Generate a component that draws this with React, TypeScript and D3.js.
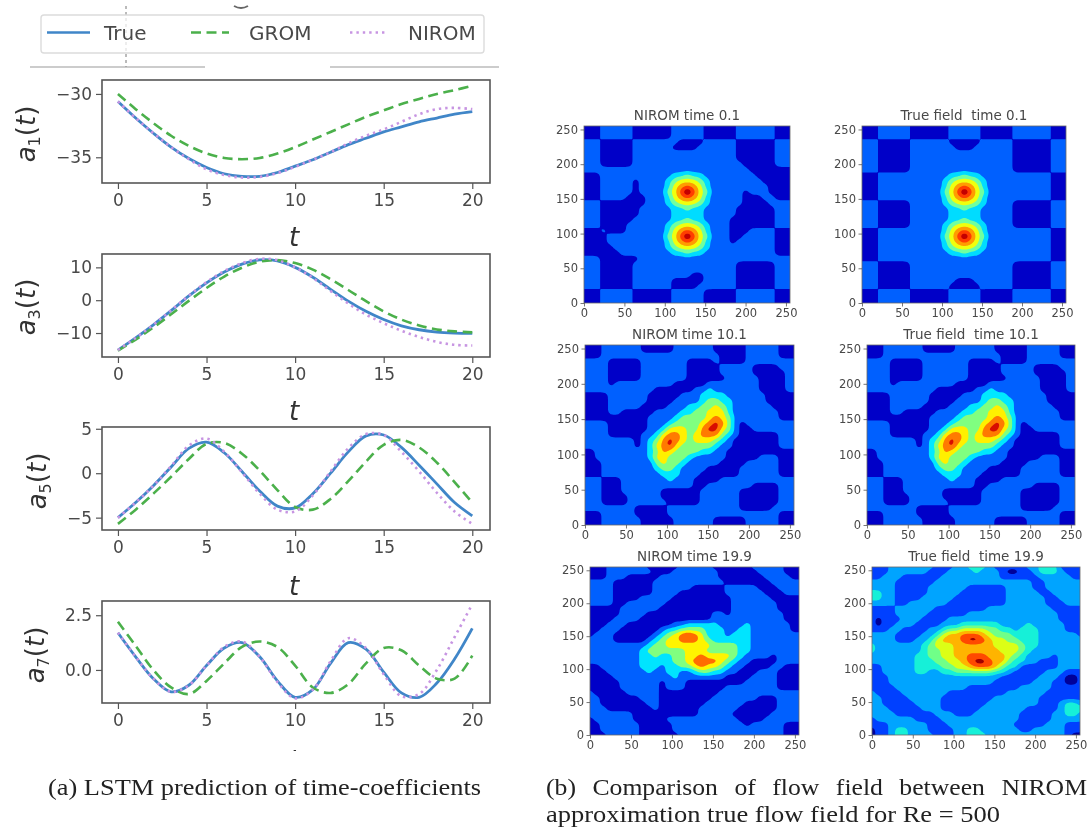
import React, { useEffect, useRef } from "react";
import * as d3 from "d3";

// time coefficients at t = 0,1,...,20
const tValues = [0, 1, 2, 3, 4, 5, 6, 7, 8, 9, 10, 11, 12, 13, 14, 15, 16, 17, 18, 19, 20];
const a1True = [-30.6, -31.9, -33.1, -34.2, -35.1, -35.8, -36.3, -36.5, -36.5, -36.2, -35.7, -35.2, -34.6, -34, -33.5, -33, -32.6, -32.2, -31.9, -31.6, -31.4];
const a1Grom = [-30, -31.2, -32.3, -33.3, -34.1, -34.7, -35.05, -35.15, -35.05, -34.7, -34.2, -33.6, -33, -32.4, -31.8, -31.3, -30.8, -30.4, -30, -29.7, -29.35];
const a1Nirom = [-30.6, -31.9, -33.1, -34.2, -35.15, -35.95, -36.4, -36.6, -36.55, -36.25, -35.75, -35.2, -34.6, -33.9, -33.3, -32.8, -32.2, -31.6, -31.2, -31.1, -31.2];
const a3True = [-15.2, -11.5, -7.5, -3.2, 1.3, 5.3, 8.6, 11, 12.3, 12, 10, 7, 3.3, -0.3, -3.4, -5.9, -7.8, -9, -9.7, -10, -10.1];
const a3Grom = [-15.4, -12, -8.3, -4.3, -0.2, 3.7, 7.2, 9.9, 11.7, 12.2, 11.3, 9.3, 6.4, 3.1, -0.3, -3.4, -5.9, -7.7, -8.9, -9.5, -9.8];
const a3Nirom = [-15.2, -11.5, -7.5, -3.1, 1.4, 5.5, 8.9, 11.3, 12.6, 12.2, 10, 6.8, 2.8, -1, -4.4, -7, -9.3, -11.2, -12.7, -13.6, -13.8];
const a5True = [-5, -3.3, -1.4, 0.7, 2.8, 3.5, 2.3, 0.2, -2, -3.7, -3.9, -2.3, 0, 2.4, 4.2, 4.3, 2.9, 0.9, -1.2, -3.3, -4.8];
const a5Grom = [-5.7, -4.1, -2.3, -0.4, 1.6, 3.3, 3.4, 2.2, 0.3, -1.9, -3.8, -4.1, -2.9, -0.9, 1.3, 3.2, 3.75, 2.9, 1.2, -1, -3.3];
const a5Nirom = [-5, -3.3, -1.4, 0.8, 3.1, 3.9, 2.4, 0.1, -2.3, -4.1, -4.3, -2.5, 0.2, 2.8, 4.4, 4.3, 2.4, 0.2, -2.2, -4.3, -5.7];
const a7True = [1.7, 0.6, -0.4, -1, -0.7, 0.2, 1, 1.25, 0.6, -0.5, -1.25, -0.9, 0.3, 1.25, 0.95, -0.1, -1.05, -1.25, -0.6, 0.5, 1.9];
const a7Grom = [2.2, 1.1, 0, -0.8, -1.1, -0.5, 0.3, 1.05, 1.3, 1.05, 0.2, -0.8, -1.05, -0.65, 0.3, 1, 0.9, 0.2, -0.4, -0.4, 0.65];
const a7Nirom = [1.7, 0.6, -0.4, -1, -0.7, 0.2, 1.05, 1.3, 0.6, -0.55, -1.3, -0.9, 0.4, 1.45, 1, -0.2, -1.2, -1.1, 0, 1.5, 3];

const xTicks = [0, 5, 10, 15, 20];
const a1Ticks = [-35, -30];
const a3Ticks = [-10, 0, 10];
const a5Ticks = [-5, 0, 5];
const a7Ticks = [0, 2.5];
const legendLabels = ["True", "GROM", "NIROM"];

// contour fields: one digit per grid node (every 8 units), top row is y = 256
const nirom01Rows = [
  "000 11111 000000 11111 00000 111111 000",
  "000 11111 000000 11111 00000 111111 000",
  "000 11111 000000 11111 00000 111111 000",
  "111 00000 1111111 0000 11111 000000 111",
  "111 00000 111111 0000 111111 000000 111",
  "111 00000 1111111111111111 000000 111",
  "111 00000 1111111111111111 000000 111",
  "111 00000 11111111111111111 00000 111",
  "11111111111111111111111111 0000000",
  "000 111111111 112232211 111111 000000",
  "000 11111 0 111 123444321 1111111 00000",
  "000 11111 0 111 124565421 11111111 0000",
  "000 11111 0 111 134686431 1111 0 111 0000",
  "000 1111 000 11 124565421 1111 000 11 000",
  "111 0000000 11 123444321 1111 0000 1111",
  "111 000000 111 112232211 111 000000 111",
  "111 000000 111 112222211 111 000000 111",
  "111 00000 1111 112232211 11 0000000 111",
  "111 0000 11111 123444321 11 0000000 111",
  "000 1 000 11111 124565421 11 000 1111 000",
  "0000 11111111 134686431 11 00 11111 000",
  "0000 11111111 124565421 11 0 111111 000",
  "00000 1111111 123444321 111111111 000",
  "000000 111111 112232211 111111111 000",
  "111 000000 111 111111111 111111111111",
  "11100000 1111111111111111 000000 111",
  "11100000 1111111111111111 000000 111",
  "11100000 111111111 00 11111 000000 111",
  "11100000 111111 00000 11111 000000 111",
  "11100000 111111 0000 111111 000000 111",
  "000 11111 000000 11111 00000 111111 000",
  "000 11111 000000 11111 00000 111111 000",
  "000 11111 000000 11111 00000 111111 000",
];

const true01Rows = [
  "000 11111 000000 11111 00000 111111 000",
  "000 11111 000000 11111 00000 111111 000",
  "000 11111 000000 11111 00000 111111 000",
  "111 00000 111111 00000 11111 000000 111",
  "111 00000 1111111 000 111111 000000 111",
  "111 00000 1111111111111111 000000 111",
  "111 00000 1111111111111111 000000 111",
  "111 00000 1111111111111111 000000 111",
  "111 00000 1111111111111111 000000 111",
  "000 111111111 112232211 111111111 000",
  "000 111111111 123444321 111111111 000",
  "000 111111111 124565421 111111111 000",
  "000 111111111 134686431 111111111 000",
  "000 111111111 124565421 111111111 000",
  "111 00000 1111 123444321 111 000000 111",
  "111 00000 1111 112232211 111 000000 111",
  "111 00000 1111 112222211 111 000000 111",
  "111 00000 1111 112232211 111 000000 111",
  "111 00000 1111 123444321 111 000000 111",
  "000 111111111 124565421 111111111 000",
  "000 111111111 134686431 111111111 000",
  "000 111111111 124565421 111111111 000",
  "000 111111111 123444321 111111111 000",
  "000 111111111 112232211 111111111 000",
  "000 111111111 111111111 111111111 000",
  "111 00000 1111111111111111 000000 111",
  "111 00000 1111111111111111 000000 111",
  "111 00000 1111111111111111 000000 111",
  "111 00000 1111111 000 111111 000000 111",
  "111 00000 111111 00000 11111 000000 111",
  "000 11111 000000 11111 00000 111111 000",
  "000 11111 000000 11111 00000 111111 000",
  "000 11111 000000 11111 00000 111111 000",
];

const field10Rows = [
  "000 111111 00000 111111 00000 11111 000",
  "000 111111 00000 111111 00000 11111 000",
  "000 111111111111111111 0000 11111 000",
  "1111 00000 1111111 0000 1 0000 11111111",
  "1111 00000 1111111 00000 11111 0000 111",
  "1111 00000 1111111 00000 11111 00000 11",
  "1111 00000 1111111 000000 11111 0000 11",
  "1111 0 111111111 00000 11111111 0000 11",
  "11111111111 000000 11 2 1111111 0000 11",
  "0000 111111 00000 111 2222 111111 00000",
  "0000 111111 0000 1111 23322 11111 00000",
  "0000 11111 0000 111 2233432 111111 0000",
  "0000 11 00000 1111 22334442 1111111 000",
  "0000000000 1111 233334543 1111111 000",
  "1111 000000 111 2333345653 1 0 11111111",
  "1111 000000 11 24443356643 1 00 1111111",
  "1111 00000 11 245543455532 1 000000 111",
  "11111111 0 1 235654344432 1 0000000 111",
  "11111111 0 1 24564333332 11 0000000 111",
  "00 11111111 2354333322 11 00000000000",
  "00 11111111 2443332 11111 00000 111 000",
  "000 11111111 34332 11111 0000 11111 000",
  "000 11111111 2332 1111 00000 111111 000",
  "000 111111111 222 111 000000 111111 000",
  "111 000 1111111 2 111 0000 111111111111",
  "111 000 11111111111 00 1111111 0000 111",
  "111 000 111111 000000 111111 000000 111",
  "111 0000 11111 000000 111111 000000 111",
  "111 0000 111111 00000 111111 000000 111",
  "11111111 00000 11111111111 00000 1111",
  "000 11111 00000 11111111111111111 000",
  "000 111111 00000 111111 00000 11111 000",
  "000 111111 00000 111111 00000 11111 000",
];

const nirom19Rows = [
  "000 111111 00000 11111 000000 11111 000",
  "000 1111111 000 1111111 000000 1111 000",
  "000 111 00000 111111111 0000000 1111 00",
  "1111 000000 11111111111 0000000 11111",
  "1111 000000 111111 00000 11111 000 1111",
  "1111 000000 1111 0000000 111111 000 111",
  "1111 0000 11111 000000000 111111 00000",
  "1111 00 111111 0000000000 1111111 0000",
  "00000 111111 00000000000 1111111 0000",
  "00000 1111 0000000000 11 0 11111111 000",
  "0000 1111 00000000000 11111111111 000",
  "000 111 0000000 11 22222 1111 2 111111 00",
  "00 111 000000 1 223333222 11 22 111111 00",
  "0 111 000000 1 2345654222 1 222 11111111",
  "1111 00000 1 234455543222222 11111111",
  "111111111 2334444444333322 11111111",
  "11111111 23333334443333322 11111111",
  "11111111 2232233445444432 1111 0 1111",
  "11111111 222223345655432 11 0000 1111",
  "00 111111 22212233454432 11 0000 11 000",
  "000 111111 2 11 22 11 2 33 22 11 000 111 0000",
  "0000 111111111 2 1111111 0000 1111 0000",
  "00000 111111 0 111 000000000 11111 0000",
  "00000 111111 0 111 000000 11111111 0000",
  "1 00000 11111 000000000 111111111 1111",
  "11 000000 111 00000000 1111111 000 1111",
  "11 0000000 11 0000000 111111 00000 1111",
  "111 0000000 1 000000 111111 000000 1111",
  "1111111 0000000000 11111 000000 11111",
  "0 111111 00000 11111111111 0000 111111",
  "00 111111 00000 11111111111 0 11111 000",
  "00 111111 00000 11111111111111111 000",
  "000 11111 000000 1111111111111111 000",
];

const true19Rows = [
  "111 2222222 111 22 333 2 11111 22 333 1111",
  "111 222222 111 2222 3 222 1 00 11 2 333 2 111",
  "11 222 111111 222222222 111111 22222 11",
  "2222 111111 222222222222222 11 222222",
  "2222 11 0 11 222222 111111 2222 11 222222",
  "33 22 11111 22222 1111111 22222 11 22222",
  "33 22 1111 22222 11111111 222222 11 2222",
  "2222 11 222222 111111111 222222 111 222",
  "1111 222222 11111111 2222222222 11111",
  "1111 22222 111111 22222222222222 1111",
  "1 0 111 222 1111 22222222222222222 1111",
  "1 0 11 222 1111 222 333333 2222 3 22222 111",
  "111 22 1111 22 3 4 4 5555 44 33 2 333 2222 111",
  "2222 1111 22 356677765444 3333 222222 1",
  "2222 111 22 35666788765544 333 2222222",
  "3 2222222 3 4 555 666666 5555 4 33 2222222",
  "3 2222222 3 44 55 6666666 555 4 3 22222222",
  "2222222 33 44 55 66 777 666 5 4 3 2222 1 2222",
  "2222222 333 44 55 6 7 88 7 66 4 33 22 111 2222",
  "11 22222 3333 44 55 6 777 6 4 33 111111 2222",
  "11 22222 33 22 33 444444 33 2 11111 222 111",
  "111 22222222222222222 111111 222 1 00 1",
  "111 2222222222222222 111111 222 11 00 1",
  "1111 22222222222 11111111 22222 11111",
  "2 1111 2222222 111111111 222222 111111",
  "22 1111 22222 11111111 2222222 1111111",
  "22 11111 2222 1111111 22222222 111 2 332",
  "222 11111 222 111111 2222222 11111 2 333",
  "2222 111111 222 111 2222222 11 0 11 22 33 2",
  "1 222222 1111 222222222222 11111 22222",
  "111 222222 111 2222222222 11111 222 111",
  "0 11 2 33 222 1 0 11 22 33 222222 11 22222 111",
  "0 11 2 33 2222 111 22 333 222222222222 1 00",
];

const fieldTicks = [0, 50, 100, 150, 200, 250];
const earlyColors = ["#0000c8", "#0060ff", "#00dcff", "#70ffa0", "#f0ff10", "#ff9c00", "#ff3c00", "#c40000"];
const midColors = ["#0000c8", "#0060ff", "#00e8ff", "#80ff80", "#fff000", "#ff7a00", "#d81000", "#c00000"];
const lateColors = ["#0000c8", "#0060ff", "#00e4ff", "#80ff80", "#fff400", "#ff6c00", "#a00000"];
const trueLateColors = ["#00009a", "#0040ff", "#00a4ff", "#18f0d8", "#70ff88", "#dcff18", "#ffb400", "#ff4800", "#a00000"];

const TRUE_COLOR = "#3f86c8";
const GROM_COLOR = "#4bb04b";
const NIROM_COLOR = "#c795e2";
const FRAME = "#555555";
const INK = "#484848";

const linePanels = [
  { sub: "1", top: 80, bottom: 183, domain: [-37.03, -28.9], ticks: a1Ticks, fmt: "d", series: [a1True, a1Grom, a1Nirom], labelX: 35, labelY: 134, tBase: 246 },
  { sub: "3", top: 254, bottom: 357, domain: [-17.3, 14.07], ticks: a3Ticks, fmt: "d", series: [a3True, a3Grom, a3Nirom], labelX: 35, labelY: 307, tBase: 420 },
  { sub: "5", top: 427, bottom: 530, domain: [-6.39, 5.2], ticks: a5Ticks, fmt: "d", series: [a5True, a5Grom, a5Nirom], labelX: 46, labelY: 481, tBase: 595 },
  { sub: "7", top: 601, bottom: 703, domain: [-1.51, 3.15], ticks: a7Ticks, fmt: ".1f", series: [a7True, a7Grom, a7Nirom], labelX: 44, labelY: 655, tBase: 769 },
];

const fieldPanels = [
  { title: "NIROM time 0.1", rows: nirom01Rows, colors: earlyColors, left: 584, right: 790, top: 126, bottom: 303, titleY: 120 },
  { title: "True field  time 0.1", rows: true01Rows, colors: earlyColors, left: 862, right: 1066, top: 126, bottom: 303, titleY: 120 },
  { title: "NIROM time 10.1", rows: field10Rows, colors: midColors, left: 585, right: 794, top: 345, bottom: 525, titleY: 339 },
  { title: "True field  time 10.1", rows: field10Rows, colors: midColors, left: 867, right: 1075, top: 345, bottom: 525, titleY: 339 },
  { title: "NIROM time 19.9", rows: nirom19Rows, colors: lateColors, left: 590, right: 799, top: 567, bottom: 735, titleY: 561 },
  { title: "True field  time 19.9", rows: true19Rows, colors: trueLateColors, left: 872, right: 1080, top: 567, bottom: 735, titleY: 561 },
];

const GRID_STEP = 8;
const UPSAMPLE = 4;
const SMOOTH = 1;

function parseRows(rows: string[]) {
  // bottom row first, the way d3.contours wants it with y growing upward
  const clean = rows.map((r) => r.replace(/ /g, "")).reverse();
  const n = clean[0].length;
  const m = clean.length;
  const at = (i: number, j: number) => {
    const r = clean[Math.max(0, Math.min(m - 1, j))];
    const k = Math.max(0, Math.min(r.length - 1, i));
    return +r[k];
  };
  // bilinear upsample then a small blur, so the digit grid gives round contours
  const width = n * UPSAMPLE;
  const height = m * UPSAMPLE;
  const values = new Float64Array(width * height);
  for (let v = 0; v < height; v++) {
    for (let u = 0; u < width; u++) {
      const gx = (u + 0.5) / UPSAMPLE - 0.5;
      const gy = (v + 0.5) / UPSAMPLE - 0.5;
      const i = Math.floor(gx);
      const j = Math.floor(gy);
      const fx = gx - i;
      const fy = gy - j;
      const top = at(i, j) * (1 - fx) + at(i + 1, j) * fx;
      const bot = at(i, j + 1) * (1 - fx) + at(i + 1, j + 1) * fx;
      values[u + v * width] = top * (1 - fy) + bot * fy;
    }
  }
  d3.blur2({ data: values, width, height }, SMOOTH);
  return { values: Array.from(values), width, height };
}

function drawLinePanels(svg: any) {
  const root = svg.append("g").attr("filter", "url(#soft)");
  const x = d3.scaleLinear().domain([-0.9, 21]).range([102, 490]);

  linePanels.forEach((p) => {
    const y = d3.scaleLinear().domain(p.domain).range([p.bottom, p.top]);
    const g = root.append("g");
    const lineGen = d3
      .line<number>()
      .x((_, i) => x(tValues[i]))
      .y((d) => y(d))
      .curve(d3.curveCatmullRom.alpha(0.5));

    const styles = [
      { color: TRUE_COLOR, dash: null, w: 2.8 },
      { color: GROM_COLOR, dash: "10 5.5", w: 2.6 },
      { color: NIROM_COLOR, dash: "2.4 4", w: 2.6 },
    ];
    p.series.forEach((s, k) => {
      g.append("path")
        .attr("d", lineGen(s))
        .attr("fill", "none")
        .attr("stroke", styles[k].color)
        .attr("stroke-width", styles[k].w)
        .attr("stroke-dasharray", styles[k].dash);
    });

    g.append("rect")
      .attr("x", 102)
      .attr("y", p.top)
      .attr("width", 388)
      .attr("height", p.bottom - p.top)
      .attr("fill", "none")
      .attr("stroke", FRAME)
      .attr("stroke-width", 1.6);

    const xAxis = g
      .append("g")
      .attr("transform", `translate(0,${p.bottom})`)
      .call(d3.axisBottom(x).tickValues(xTicks).tickSize(6).tickPadding(5).tickFormat(d3.format("d")));
    const yAxis = g
      .append("g")
      .attr("transform", "translate(102,0)")
      .call(d3.axisLeft(y).tickValues(p.ticks).tickSize(6).tickPadding(4).tickFormat(d3.format(p.fmt)));
    [xAxis, yAxis].forEach((a) => {
      a.select(".domain").remove();
      a.selectAll("line").attr("stroke", FRAME).attr("stroke-width", 1.2);
      a.selectAll("text").attr("fill", INK).attr("font-size", 17).attr("font-family", "DejaVu Sans");
    });

    const label = g
      .append("text")
      .attr("transform", `translate(${p.labelX},${p.labelY}) rotate(-90)`)
      .attr("text-anchor", "middle")
      .attr("font-family", "DejaVu Sans")
      .attr("font-size", 26)
      .attr("fill", "#333");
    label.append("tspan").attr("font-style", "italic").text("a");
    label.append("tspan").attr("font-size", 16).attr("dy", 5).text(p.sub);
    label.append("tspan").attr("dy", -5).text("(");
    label.append("tspan").attr("font-style", "italic").text("t");
    label.append("tspan").text(")");

    // the last x label is cut off by the figure crop
    const tLabel = g
      .append("text")
      .attr("x", 294)
      .attr("y", p.tBase)
      .attr("text-anchor", "middle")
      .attr("font-family", "DejaVu Sans")
      .attr("font-style", "italic")
      .attr("font-size", 26)
      .attr("fill", "#333")
      .text("t");
    if (p.sub === "7") tLabel.attr("clip-path", "url(#crop-last-t)");
  });
}

function drawLegend(svg: any) {
  const g = svg.append("g").attr("filter", "url(#soft)");

  // leftovers of the page behind the legend
  g.append("line").attr("x1", 126).attr("x2", 126).attr("y1", 6).attr("y2", 67).attr("stroke", "#777").attr("stroke-dasharray", "3 3");
  g.append("line").attr("x1", 30).attr("x2", 205).attr("y1", 67).attr("y2", 67).attr("stroke", "#999");
  g.append("line").attr("x1", 330).attr("x2", 499).attr("y1", 67).attr("y2", 67).attr("stroke", "#999");
  g.append("path").attr("d", "M234,6 Q241,10 248,6").attr("fill", "none").attr("stroke", "#666").attr("stroke-width", 2);

  g.append("rect")
    .attr("x", 41)
    .attr("y", 15)
    .attr("width", 443)
    .attr("height", 38)
    .attr("rx", 3)
    .attr("fill", "#fff")
    .attr("fill-opacity", 0.75)
    .attr("stroke", "#dcdcdc")
    .attr("stroke-width", 1.4);

  const keys = [
    { x1: 47, x2: 90, tx: 104, color: TRUE_COLOR, dash: null },
    { x1: 191, x2: 229, tx: 249, color: GROM_COLOR, dash: "10 5.5" },
    { x1: 350, x2: 388, tx: 408, color: NIROM_COLOR, dash: "2.4 4" },
  ];
  keys.forEach((k, i) => {
    g.append("line")
      .attr("x1", k.x1)
      .attr("x2", k.x2)
      .attr("y1", 32.5)
      .attr("y2", 32.5)
      .attr("stroke", k.color)
      .attr("stroke-width", 2.6)
      .attr("stroke-dasharray", k.dash);
    g.append("text")
      .attr("x", k.tx)
      .attr("y", 40)
      .attr("font-family", "DejaVu Sans")
      .attr("font-size", 20)
      .attr("fill", INK)
      .text(legendLabels[i]);
  });
}

function drawFieldPanels(svg: any) {
  const defs = svg.select("defs");

  fieldPanels.forEach((p, idx) => {
    const root = svg.append("g").attr("filter", "url(#soft)");
    const x = d3.scaleLinear().domain([0, 255]).range([p.left, p.right]);
    const y = d3.scaleLinear().domain([0, 255]).range([p.bottom, p.top]);
    const { values, width, height } = parseRows(p.rows);

    defs
      .append("clipPath")
      .attr("id", `field-${idx}`)
      .append("rect")
      .attr("x", p.left)
      .attr("y", p.top)
      .attr("width", p.right - p.left)
      .attr("height", p.bottom - p.top);

    const thresholds = p.colors.map((_, k) => k - 0.5).slice(1);
    const contours = d3.contours().size([width, height]).thresholds(thresholds)(values);
    const path = d3.geoPath(
      d3.geoTransform({
        point(px: number, py: number) {
          const gx = px / UPSAMPLE - 0.5;
          const gy = py / UPSAMPLE - 0.5;
          (this as any).stream.point(x(gx * GRID_STEP), y(gy * GRID_STEP));
        },
      })
    );

    const field = root.append("g").attr("clip-path", `url(#field-${idx})`);
    field
      .append("rect")
      .attr("x", p.left)
      .attr("y", p.top)
      .attr("width", p.right - p.left)
      .attr("height", p.bottom - p.top)
      .attr("fill", p.colors[0]);
    field
      .selectAll("path")
      .data(contours)
      .join("path")
      .attr("d", (d: any) => path(d))
      .attr("fill", (_: any, k: number) => p.colors[k + 1]);

    root
      .append("rect")
      .attr("x", p.left)
      .attr("y", p.top)
      .attr("width", p.right - p.left)
      .attr("height", p.bottom - p.top)
      .attr("fill", "none")
      .attr("stroke", "#666")
      .attr("stroke-width", 0.8);

    const xAxis = root
      .append("g")
      .attr("transform", `translate(0,${p.bottom})`)
      .call(d3.axisBottom(x).tickValues(fieldTicks).tickSize(3.5).tickPadding(2.5));
    const yAxis = root
      .append("g")
      .attr("transform", `translate(${p.left},0)`)
      .call(d3.axisLeft(y).tickValues(fieldTicks).tickSize(3.5).tickPadding(2.5));
    [xAxis, yAxis].forEach((a) => {
      a.select(".domain").remove();
      a.selectAll("line").attr("stroke", FRAME).attr("stroke-width", 0.8);
      a.selectAll("text").attr("fill", INK).attr("font-size", 11.5).attr("font-family", "DejaVu Sans");
    });

    root
      .append("text")
      .attr("x", (p.left + p.right) / 2)
      .attr("y", p.titleY)
      .attr("text-anchor", "middle")
      .attr("font-family", "DejaVu Sans")
      .attr("font-size", 13.5)
      .attr("fill", INK)
      .style("white-space", "pre")
      .text(p.title);
  });
}

function drawCaptions(svg: any) {
  const captions = [
    { text: "(a) LSTM prediction of time-coefficients", x: 48, y: 795, len: 433, gap: 0 },
    { text: "(b) Comparison of flow field between NIROM", x: 546, y: 795, len: 541, gap: 9 },
    { text: "approximation true flow field for Re = 500", x: 546, y: 822, len: 454, gap: 0 },
  ];
  captions.forEach((c) => {
    svg
      .append("text")
      .attr("x", c.x)
      .attr("y", c.y)
      .attr("font-family", "Liberation Serif")
      .attr("font-size", 23)
      .attr("fill", "#222")
      .attr("word-spacing", c.gap)
      .attr("textLength", c.len)
      .attr("lengthAdjust", "spacingAndGlyphs")
      .text(c.text);
  });
}

export default function App() {
  const ref = useRef<SVGSVGElement>(null);

  useEffect(() => {
    const svg = d3.select(ref.current);
    svg.selectAll("*").remove(); // strict mode runs this twice

    const defs = svg.append("defs");
    // the source figure is a blurry screenshot
    defs
      .append("filter")
      .attr("id", "soft")
      .attr("x", "-5%")
      .attr("y", "-5%")
      .attr("width", "110%")
      .attr("height", "110%")
      .append("feGaussianBlur")
      .attr("stdDeviation", 0.6);
    defs.append("clipPath").attr("id", "crop-last-t").append("rect").attr("x", 270).attr("y", 700).attr("width", 50).attr("height", 51);

    svg.append("rect").attr("width", 1089).attr("height", 828).attr("fill", "#fff");
    drawLegend(svg);
    drawLinePanels(svg);
    drawFieldPanels(svg);
    drawCaptions(svg);
  }, []);

  return <svg ref={ref} width={1089} height={828} style={{ position: "absolute", left: 0, top: 0, display: "block" }} />;
}
